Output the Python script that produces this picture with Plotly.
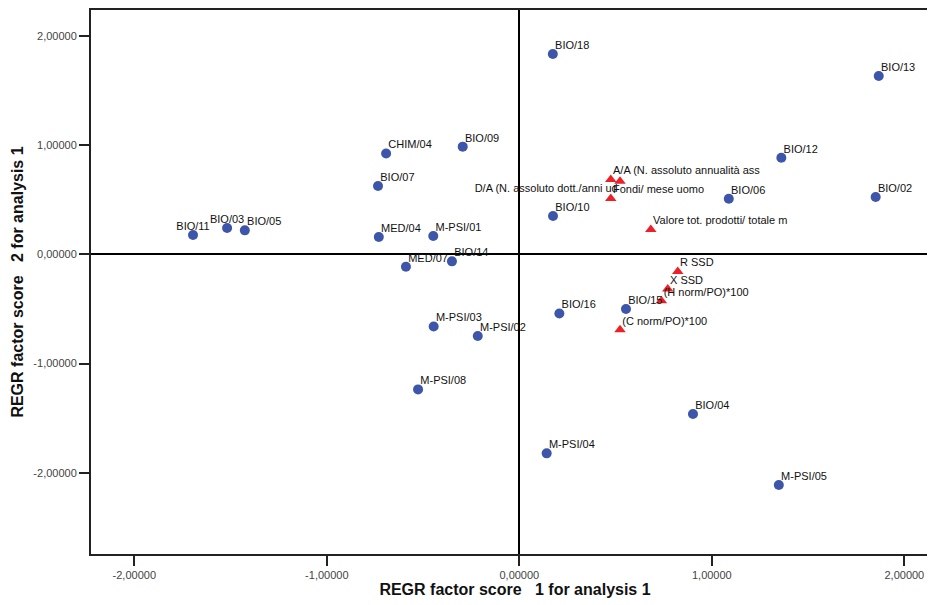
import plotly.graph_objects as go

# Blue points: scientific sectors
sector_labels = ["BIO/18", "BIO/13", "BIO/12", "BIO/06", "BIO/02", "BIO/10", "CHIM/04",
                 "BIO/09", "BIO/07", "BIO/11", "BIO/03", "BIO/05", "MED/04", "M-PSI/01",
                 "MED/07", "BIO/14", "M-PSI/03", "M-PSI/02", "BIO/16", "BIO/15",
                 "M-PSI/08", "BIO/04", "M-PSI/04", "M-PSI/05"]
sector_x = [0.174, 1.867, 1.361, 1.088, 1.851, 0.175, -0.692,
            -0.294, -0.734, -1.695, -1.518, -1.426, -0.730, -0.447,
            -0.589, -0.350, -0.445, -0.216, 0.208, 0.554,
            -0.526, 0.902, 0.142, 1.348]
sector_y = [1.836, 1.634, 0.886, 0.510, 0.526, 0.352, 0.925,
            0.987, 0.627, 0.178, 0.242, 0.220, 0.159, 0.169,
            -0.113, -0.064, -0.660, -0.748, -0.541, -0.500,
            -1.237, -1.462, -1.823, -2.113]
sector_pos = ["top right"] * 9 + ["top center", "top center"] + ["top right"] * 13

# Red triangles: indicators
ind_labels = ["A/A (N. assoluto annualità ass", "D/A (N. assoluto dott./anni ud",
              "Fondi/ mese uomo", "Valore tot. prodotti/ totale m", "R SSD", "X SSD",
              "(H norm/PO)*100", "(C norm/PO)*100"]
ind_x = [0.475, 0.523, 0.475, 0.683, 0.823, 0.771, 0.738, 0.523]
ind_y = [0.687, 0.669, 0.513, 0.229, -0.156, -0.317, -0.424, -0.690]
ind_pos = ["top right", "bottom left", "top right", "top right",
           "top right", "top right", "top right", "top right"]

tick_vals = [-2, -1, 0, 1, 2]
tick_text = ["-2,00000", "-1,00000", "0,00000", "1,00000", "2,00000"]

x_title = "REGR factor score\u00a0\u00a0\u00a01 for analysis 1"
y_title = "REGR factor score\u00a0\u00a0\u00a02 for analysis 1"

font_family = "Liberation Sans, Arial, sans-serif"
label_font = dict(family=font_family, size=11, color="#111111")

fig = go.Figure()
# markers
fig.add_trace(go.Scatter(
    x=sector_x, y=sector_y, mode="markers",
    marker=dict(symbol="circle", size=10, color="#3D56AA"),
    hoverinfo="skip",
))
fig.add_trace(go.Scatter(
    x=ind_x, y=ind_y, mode="markers",
    marker=dict(symbol="triangle-up", size=10, color="#EC2027"),
    hoverinfo="skip",
))
# labels (small invisible markers so the text sits close to the points)
fig.add_trace(go.Scatter(
    x=sector_x, y=sector_y, mode="markers+text", text=sector_labels,
    textposition=sector_pos, cliponaxis=False, textfont=label_font,
    marker=dict(size=2, opacity=0), hoverinfo="skip",
))
fig.add_trace(go.Scatter(
    x=ind_x, y=ind_y, mode="markers+text", text=ind_labels,
    textposition=ind_pos, cliponaxis=False, textfont=label_font,
    marker=dict(size=2, opacity=0), hoverinfo="skip",
))

axis_common = dict(
    showgrid=False, zeroline=True, zerolinecolor="#000000", zerolinewidth=1.5,
    showline=True, linecolor="#222222", linewidth=2,
    ticks="outside", ticklen=10, tickwidth=2, tickcolor="#222222",
    tickfont=dict(family=font_family, size=11, color="#444444"),
    tickvals=tick_vals, ticktext=tick_text, automargin=False,
)

fig.update_layout(
    width=935, height=605,
    margin=dict(l=83, r=4, t=2, b=59),
    paper_bgcolor="white", plot_bgcolor="white",
    showlegend=False,
    xaxis=dict(range=[-2.225, 2.180], mirror=True,
               title=dict(text=x_title, standoff=4,
                          font=dict(family=font_family, size=16, color="#111111", weight="bold")),
               **axis_common),
    yaxis=dict(range=[-2.745, 2.239], mirror=False,
               title=dict(text=y_title, standoff=6,
                          font=dict(family=font_family, size=16, color="#111111", weight="bold")),
               **axis_common),
)

fig.write_html("out.html")
